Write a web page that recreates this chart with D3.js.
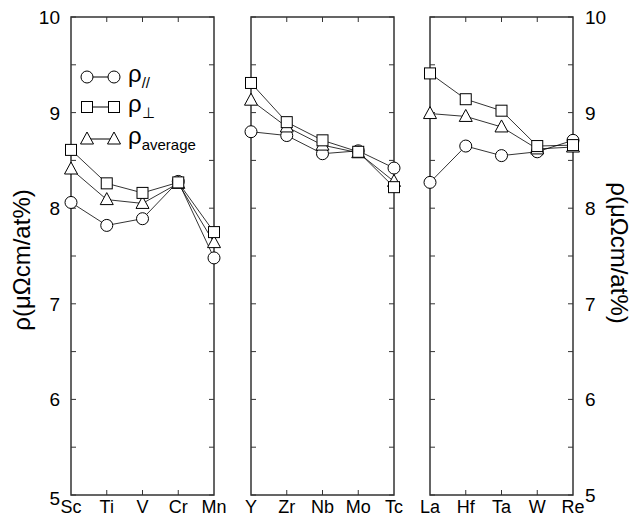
<!DOCTYPE html>
<html>
<head>
<meta charset="utf-8">
<script src="https://cdn.jsdelivr.net/npm/d3@7"></script>
<style>
  body { margin: 0; background: #fff; }
  text { font-family: "Liberation Sans", Arial, sans-serif; fill: #000; }
</style>
</head>
<body>
<svg id="chart" width="636" height="517"></svg>
<script>
// element groups, one per panel
const groups = [
  ["Sc", "Ti", "V", "Cr", "Mn"],
  ["Y", "Zr", "Nb", "Mo", "Tc"],
  ["La", "Hf", "Ta", "W", "Re"]
];

// resistivity values (µΩcm/at%)
const rhoPar = [
  [8.06, 7.82, 7.89, 8.28, 7.48],
  [8.80, 8.76, 8.57, 8.60, 8.42],
  [8.27, 8.65, 8.55, 8.59, 8.71]
];
const rhoPerp = [
  [8.61, 8.26, 8.16, 8.27, 7.75],
  [9.31, 8.90, 8.71, 8.59, 8.22],
  [9.41, 9.14, 9.02, 8.65, 8.66]
];
const rhoAvg = [
  [8.41, 8.09, 8.05, 8.26, 7.64],
  [9.13, 8.85, 8.66, 8.58, 8.28],
  [8.99, 8.96, 8.85, 8.62, 8.64]
];

const yTicks = [5, 6, 7, 8, 9, 10];
const yMinor = [5.5, 6.5, 7.5, 8.5, 9.5];

const svg = d3.select("#chart");
const panelLeft = [71, 251, 430];
const panelW = 143;
const plotTop = 17, plotBottom = 495;

let y = d3.scaleLinear().domain([5, 10]).range([plotBottom, plotTop]);

function marker(g, kind, cx, cy) {
  if (kind === "circle") {
    g.append("circle").attr("cx", cx).attr("cy", cy).attr("r", 6)
      .attr("fill", "#fff").attr("stroke", "#000").attr("stroke-width", 1);
  } else if (kind === "square") {
    g.append("rect").attr("x", cx - 5.5).attr("y", cy - 5.5)
      .attr("width", 11).attr("height", 11)
      .attr("fill", "#fff").attr("stroke", "#000").attr("stroke-width", 1);
  } else {
    g.append("path")
      .attr("d", `M${cx},${cy - 7}L${cx + 6.5},${cy + 5}L${cx - 6.5},${cy + 5}Z`)
      .attr("fill", "#fff").attr("stroke", "#000").attr("stroke-width", 1);
  }
}

const series = [
  { vals: rhoPar, kind: "circle" },
  { vals: rhoAvg, kind: "triangle" },
  { vals: rhoPerp, kind: "square" }
];

groups.forEach((cats, p) => {
  let x = d3.scalePoint().domain(cats).range([panelLeft[p], panelLeft[p] + panelW]);
  let g = svg.append("g");

  // frame
  g.append("rect")
    .attr("x", panelLeft[p]).attr("y", plotTop)
    .attr("width", panelW).attr("height", plotBottom - plotTop)
    .attr("fill", "none").attr("stroke", "#333").attr("stroke-width", 1.5);

  // y ticks, inward on both sides
  yTicks.concat(yMinor).forEach(v => {
    g.append("line").attr("x1", panelLeft[p]).attr("x2", panelLeft[p] + 5)
      .attr("y1", y(v)).attr("y2", y(v)).attr("stroke", "#333");
    g.append("line").attr("x1", panelLeft[p] + panelW - 5).attr("x2", panelLeft[p] + panelW)
      .attr("y1", y(v)).attr("y2", y(v)).attr("stroke", "#333");
  });

  // x ticks, top and bottom
  cats.slice(1, -1).forEach(c => {
    g.append("line").attr("x1", x(c)).attr("x2", x(c))
      .attr("y1", plotTop).attr("y2", plotTop + 5).attr("stroke", "#333");
    g.append("line").attr("x1", x(c)).attr("x2", x(c))
      .attr("y1", plotBottom - 5).attr("y2", plotBottom).attr("stroke", "#333");
  });

  // category labels
  g.selectAll(".cat").data(cats).enter().append("text")
    .attr("x", d => x(d)).attr("y", 513)
    .attr("text-anchor", "middle").attr("font-size", 18)
    .text(d => d);

  // lines then markers
  let line = d3.line().x((d, i) => x(cats[i])).y(d => y(d));
  series.forEach(s => {
    g.append("path").attr("d", line(s.vals[p]))
      .attr("fill", "none").attr("stroke", "#000").attr("stroke-width", 0.8);
  });
  series.forEach(s => {
    s.vals[p].forEach((v, i) => marker(g, s.kind, x(cats[i]), y(v)));
  });
});

// y tick labels, left of first panel and right of last
yTicks.forEach(v => {
  let dy = v === 5 ? 10 : 7;
  svg.append("text").attr("x", 60).attr("y", y(v) + dy)
    .attr("text-anchor", "end").attr("font-size", 19).text(v);
  svg.append("text").attr("x", 585).attr("y", y(v) + 7)
    .attr("text-anchor", "start").attr("font-size", 19).text(v);
});

// axis titles
svg.append("text")
  .attr("transform", "translate(30,260) rotate(-90)")
  .attr("text-anchor", "middle").attr("font-size", 24)
  .text("ρ(μΩcm/at%)");
svg.append("text")
  .attr("transform", "translate(611,253) rotate(90)")
  .attr("text-anchor", "middle").attr("font-size", 24)
  .text("ρ(μΩcm/at%)");

// legend
const legend = [
  { kind: "circle", y: 77, sub: "//" },
  { kind: "square", y: 107, sub: "⊥" },
  { kind: "triangle", y: 139, sub: "average" }
];
legend.forEach(l => {
  svg.append("line").attr("x1", 87).attr("x2", 114)
    .attr("y1", l.y).attr("y2", l.y).attr("stroke", "#000");
  marker(svg, l.kind, 87, l.y);
  marker(svg, l.kind, 114, l.y);
  let t = svg.append("text").attr("x", 128).attr("y", l.y + 5).attr("font-size", 24);
  t.append("tspan").text("ρ");
  t.append("tspan").attr("font-size", 15).attr("dy", 6).text(l.sub);
});
</script>
</body>
</html>
